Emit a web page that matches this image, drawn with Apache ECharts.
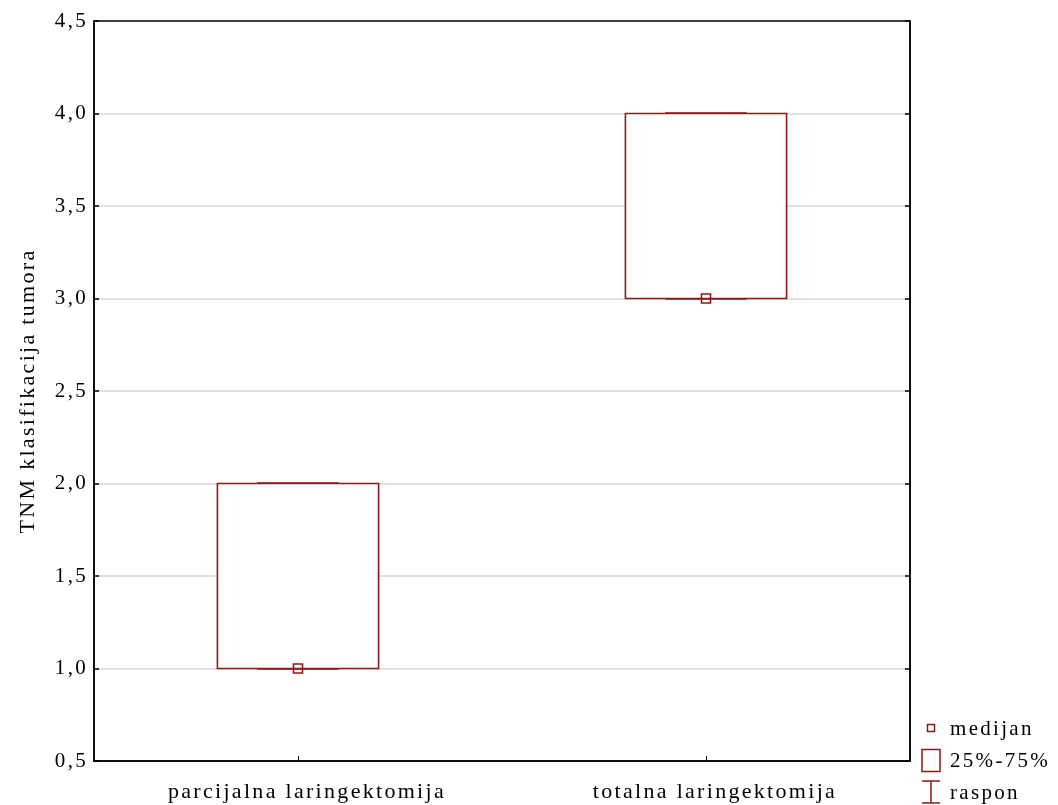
<!DOCTYPE html>
<html>
<head>
<meta charset="utf-8">
<script src="https://cdn.jsdelivr.net/npm/echarts@6/dist/echarts.min.js"></script>
<style>
html,body{margin:0;padding:0;background:#fff;}
#chart{width:1058px;height:805px;}
</style>
</head>
<body>
<div id="chart"></div>
<script>
const categories = ['parcijalna laringektomija', 'totalna laringektomija'];
const minValues = [1.0, 3.0];
const q1Values = [1.0, 3.0];
const medianValues = [1.0, 3.0];
const q3Values = [2.0, 4.0];
const maxValues = [2.0, 4.0];
const yAxisTitle = 'TNM klasifikacija tumora';
const legendLabels = ['medijan', '25%-75%', 'raspon'];

const COLOR = '#8b1a1a';
const FONT = '"Liberation Serif", "DejaVu Serif", serif';

// Loose letter spacing as in the original (applies to drawing and measuring).
(function () {
  const proto = CanvasRenderingContext2D.prototype;
  const desc = Object.getOwnPropertyDescriptor(proto, 'font');
  if (desc && 'letterSpacing' in proto) {
    Object.defineProperty(proto, 'font', {
      configurable: true,
      get() { return desc.get.call(this); },
      set(v) { desc.set.call(this, v); this.letterSpacing = '2.3px'; }
    });
  }
})();

const boxData = categories.map((c, i) => [i, minValues[i], q1Values[i], medianValues[i], q3Values[i], maxValues[i]]);

function renderBox(params, api) {
  const idx = api.value(0);
  const bandW = api.size([1, 0])[0];
  const boxW = bandW * 0.395;
  const capW = bandW * 0.2;
  const pMin = api.coord([idx, api.value(1)]);
  const pQ1 = api.coord([idx, api.value(2)]);
  const pMed = api.coord([idx, api.value(3)]);
  const pQ3 = api.coord([idx, api.value(4)]);
  const pMax = api.coord([idx, api.value(5)]);
  const cx = pMed[0];
  const style = { stroke: COLOR, lineWidth: 1.5, fill: null };
  const children = [
    { type: 'line', shape: { x1: cx, y1: pMax[1], x2: cx, y2: pQ3[1] }, style },
    { type: 'line', shape: { x1: cx, y1: pQ1[1], x2: cx, y2: pMin[1] }, style },
    { type: 'line', shape: { x1: cx - capW / 2, y1: pMax[1], x2: cx + capW / 2, y2: pMax[1] }, style: { stroke: COLOR, lineWidth: 2.5 } },
    { type: 'line', shape: { x1: cx - capW / 2, y1: pMin[1], x2: cx + capW / 2, y2: pMin[1] }, style: { stroke: COLOR, lineWidth: 2.5 } },
    { type: 'rect', shape: { x: cx - boxW / 2, y: pQ3[1], width: boxW, height: pQ1[1] - pQ3[1] }, style: { stroke: COLOR, lineWidth: 1.6, fill: '#fff' } },
    { type: 'rect', shape: { x: cx - 4.5, y: pMed[1] - 4.5, width: 9, height: 9 }, style: { stroke: COLOR, lineWidth: 1.6, fill: 'rgba(255,255,255,0)' } }
  ];
  return { type: 'group', children };
}

const chart = echarts.init(document.getElementById('chart'), null, { renderer: 'canvas' });

const lx = 922, textX = 950;
const legendFont = '21px ' + FONT;
const legendGraphic = [
  { type: 'rect', shape: { x: lx + 5.5, y: 724.5, width: 7, height: 7 }, style: { stroke: COLOR, lineWidth: 1.5, fill: '#fff' } },
  { type: 'text', x: textX, y: 729, style: { text: legendLabels[0], font: legendFont, fill: '#000', verticalAlign: 'middle' } },
  { type: 'rect', shape: { x: lx, y: 749.5, width: 18, height: 22 }, style: { stroke: COLOR, lineWidth: 1.5, fill: '#fff' } },
  { type: 'text', x: textX, y: 761, style: { text: legendLabels[1], font: legendFont, fill: '#000', verticalAlign: 'middle' } },
  { type: 'line', shape: { x1: lx, y1: 781, x2: lx + 18, y2: 781 }, style: { stroke: COLOR, lineWidth: 1.5 } },
  { type: 'line', shape: { x1: lx + 9, y1: 781, x2: lx + 9, y2: 803 }, style: { stroke: COLOR, lineWidth: 1.5 } },
  { type: 'line', shape: { x1: lx, y1: 803, x2: lx + 18, y2: 803 }, style: { stroke: COLOR, lineWidth: 1.5 } },
  { type: 'text', x: textX, y: 793, style: { text: legendLabels[2], font: legendFont, fill: '#000', verticalAlign: 'middle' } }
];

const option = {
  animation: false,
  backgroundColor: '#fff',
  textStyle: { fontFamily: FONT },
  grid: { left: 94, right: 148, top: 21, bottom: 44, show: true, borderColor: '#000', borderWidth: 1.5, backgroundColor: 'transparent' },
  xAxis: {
    type: 'category',
    data: categories,
    boundaryGap: true,
    axisLine: { show: true, lineStyle: { color: '#000', width: 1.5 } },
    axisTick: { show: true, inside: true, alignWithLabel: true, length: 5, lineStyle: { color: '#000' } },
    axisLabel: { fontFamily: FONT, fontSize: 22, color: '#000', margin: 19, padding: [0, 0, 0, 18] },
    splitLine: { show: false }
  },
  yAxis: [{
    type: 'value',
    min: 0.5, max: 4.5, interval: 0.5,
    name: yAxisTitle,
    nameLocation: 'middle',
    nameGap: 54,
    nameTextStyle: { fontFamily: FONT, fontSize: 22, color: '#000' },
    axisLine: { show: true, lineStyle: { color: '#000', width: 1.5 } },
    axisTick: { show: true, inside: true, length: 5, lineStyle: { color: '#000', width: 1.5 } },
    axisLabel: { fontFamily: FONT, fontSize: 21, color: '#000', margin: 6, formatter: v => v.toFixed(1).replace('.', ',') },
    splitLine: { show: true, showMinLine: false, showMaxLine: false, lineStyle: { color: '#d6d6d6', width: 1.5 } }
  }, {
    type: 'value',
    position: 'right',
    min: 0.5, max: 4.5, interval: 0.5,
    axisLine: { show: true, lineStyle: { color: '#000', width: 1.5 } },
    axisTick: { show: true, inside: true, length: 5, lineStyle: { color: '#000', width: 1.5 } },
    axisLabel: { show: false },
    splitLine: { show: false }
  }],
  series: [{
    type: 'custom',
    renderItem: renderBox,
    data: boxData,
    encode: { x: 0, y: [1, 2, 3, 4, 5] },
    clip: false,
    z: 5
  }],
  graphic: legendGraphic
};
chart.setOption(option);
</script>
</body>
</html>
